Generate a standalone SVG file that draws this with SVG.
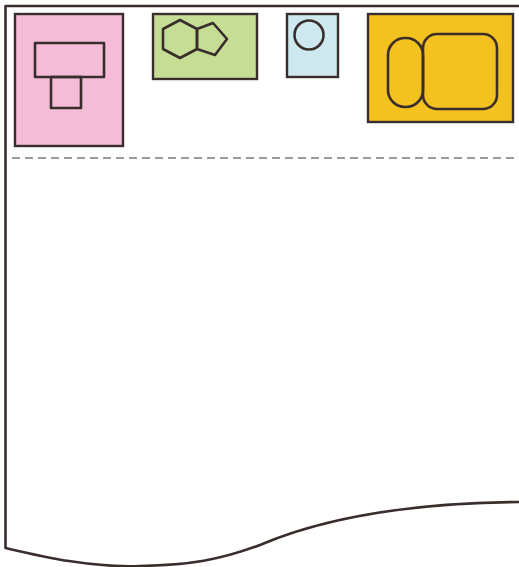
<svg xmlns="http://www.w3.org/2000/svg" width="519" height="567" viewBox="0 0 519 567">
<style>
.o{stroke:#3a2e2c;stroke-width:2.6;fill:none;stroke-linejoin:round}
.b{stroke:#3a2e2c;stroke-width:2.4;}
</style>
<rect width="519" height="567" fill="#fff"/>
<path class="o" d="M519,6 H5.5 V548 C40,556 90,568 140,566 C190,565 220,560 260,545 C330,515 420,503 519,502"/>
<line x1="12" y1="158" x2="519" y2="158" stroke="#9a9a9a" stroke-width="2" stroke-dasharray="8,5"/>
<g id="pink">
<rect class="b" x="15" y="14" width="108" height="132" fill="#f5bcd7"/>
<rect class="o" x="35" y="43" width="69" height="34"/>
<rect class="o" x="51" y="77" width="30" height="31"/>
</g>
<g id="green">
<rect class="b" x="153" y="14" width="104" height="65" fill="#c5dd95"/>
<polygon class="o" points="180,20 197,29 197,49 180,58 163,49 163,29"/>
<polygon class="o" points="197,29 213,23 227,39 215,55 197,49"/>
</g>
<g id="blue">
<rect class="b" x="287" y="14" width="51" height="63" fill="#cde8ee"/>
<circle class="o" cx="309" cy="35" r="14.5"/>
</g>
<g id="yellow">
<rect class="b" x="368" y="14" width="145" height="108" fill="#f4c21e"/>
<rect class="o" x="388" y="38" width="35" height="69" rx="17"/>
<rect class="o" x="423" y="34" width="74" height="75" rx="14"/>
</g>
</svg>
